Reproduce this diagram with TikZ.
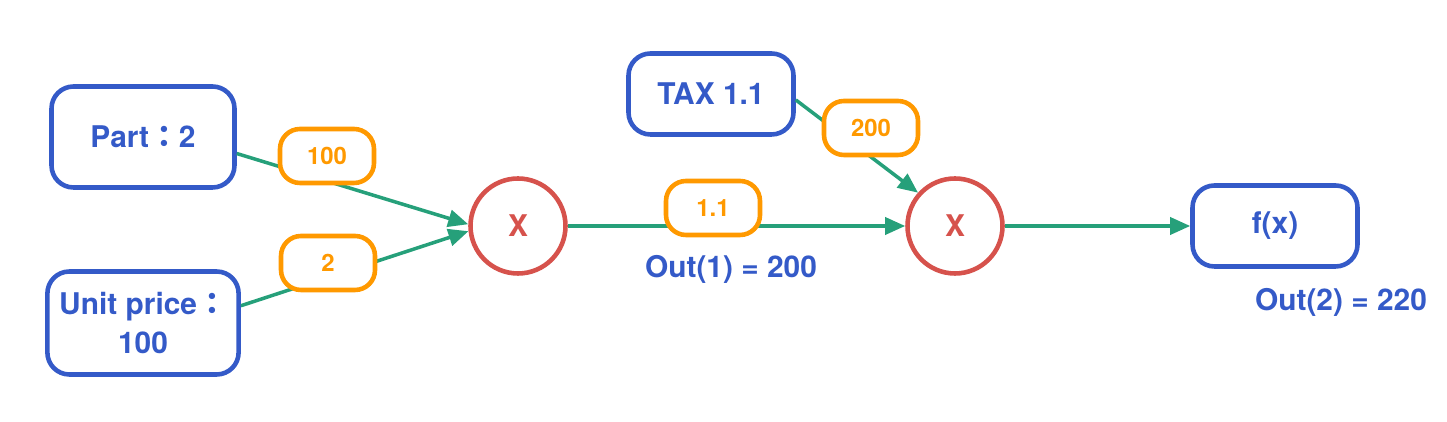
\documentclass[tikz,border=0pt]{standalone}
\usepackage{fontspec}
\setmainfont{TeX Gyre Heros}
\newfontfamily\cjk{Noto Sans CJK TC}
\usepackage{tikz}
\usetikzlibrary{
  positioning,
  arrows.meta
}
\definecolor{ublue}{RGB}{52,90,200}
\definecolor{uorange}{RGB}{255,153,0}
\definecolor{ugreen}{RGB}{38,160,122}
\definecolor{ured}{RGB}{214,82,76}
\newcommand{\fwcolon}{{\cjk ：}}
\tikzset{
  ->,
  >={Triangle[length=2mm,width=1.7mm]},
  node distance=3cm,
  vbox/.style={draw=ublue, line width=1.3pt, rounded corners=2.2mm,
    minimum width=1.83cm, minimum height=1.01cm, align=center,
    text=ublue, font=\bfseries\fontsize{8.5}{11}\selectfont},
  small/.style={minimum width=1.65cm, minimum height=0.81cm},
  mult/.style={circle, draw=ured, line width=1.3pt, minimum size=0.95cm,
    text=ured, font=\bfseries\fontsize{8.5}{11}\selectfont},
  wt/.style={draw=uorange, fill=white, line width=1.3pt, rounded corners=2mm,
    minimum width=0.94cm, minimum height=0.54cm,
    text=uorange, font=\bfseries\fontsize{6.8}{8}\selectfont},
  outtxt/.style={text=ublue, font=\bfseries\fontsize{8.5}{11}\selectfont},
  gline/.style={draw=ugreen, line width=1pt}
}
\begin{document}
\begin{tikzpicture}
    \useasboundingbox (0,0) rectangle (14.47,4.22);
    \node[vbox] (part) at (1.43,2.85) {Part\fwcolon 2};
    \node[vbox, below of=part, node distance=1.86cm, minimum height=1.03cm] (unit) {Unit price\fwcolon\\100};
    \node[mult] (x1) at (5.18,1.96) {X};
    \node[mult, right of=x1, node distance=4.37cm] (x2) {X};
    \node[vbox, small, right of=x2, node distance=3.20cm] (fx) {f(x)};
    \node[vbox, small] (tax) at (7.11,3.28) {TAX 1.1};
    \draw[gline] (part.-10) -- (x1.178);
    \draw[gline] (unit.10) -- (x1.186);
    \draw[gline] (x1.east) -- (x2.west);
    \draw[gline] (tax.-4) -- (x2.138);
    \draw[gline] (x2.east) -- (fx.west);
    \node[wt] (w100) at (3.27,2.66) {100};
    \node[wt] (w2) at (3.28,1.59) {2};
    \node[wt] (w11) at (7.13,2.14) {1.1};
    \node[wt] (w200) at (8.71,2.94) {200};
    \node[outtxt] (out1) at (7.31,1.53) {Out(1) = 200};
    \node[outtxt] (out2) at (13.41,1.20) {Out(2) = 220};
\end{tikzpicture}
\end{document}
